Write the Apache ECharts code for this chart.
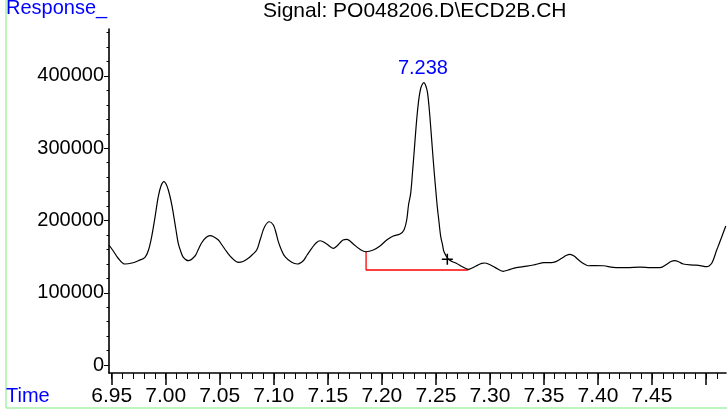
<!DOCTYPE html>
<html>
<head>
<meta charset="utf-8">
<script src="https://cdn.jsdelivr.net/npm/echarts@6/dist/echarts.min.js"></script>
<style>html,body{margin:0;padding:0;background:#fff}#c{width:727px;height:410px}</style>
</head>
<body>
<div id="c"></div>
<script>
const times = [6.9475,6.9521,6.9558,6.9623,6.9688,6.9746,6.9808,6.9841,6.9870,6.9901,6.9931,6.9956,6.9984,7.0003,7.0024,7.0049,7.0070,7.0095,7.0116,7.0141,7.0163,7.0209,7.0271,7.0299,7.0333,7.0373,7.0410,7.0447,7.0487,7.0521,7.0564,7.0613,7.0672,7.0715,7.0764,7.0798,7.0842,7.0873,7.0914,7.0959,7.0996,7.1021,7.1042,7.1067,7.1104,7.1166,7.1218,7.1273,7.1308,7.1351,7.1391,7.1428,7.1490,7.1551,7.1585,7.1613,7.1641,7.1675,7.1705,7.1736,7.1798,7.1854,7.1921,7.1983,7.2045,7.2106,7.2168,7.2205,7.2230,7.2247,7.2267,7.2284,7.2298,7.2316,7.2328,7.2344,7.2360,7.2376,7.2390,7.2404,7.2421,7.2437,7.2452,7.2467,7.2483,7.2499,7.2513,7.2529,7.2545,7.2562,7.2575,7.2615,7.2649,7.2693,7.2742,7.2800,7.2835,7.2872,7.2924,7.2955,7.2985,7.3047,7.3124,7.3168,7.3217,7.3309,7.3402,7.3495,7.3587,7.3665,7.3705,7.3742,7.3779,7.3816,7.3865,7.3911,7.3973,7.4050,7.4142,7.4266,7.4389,7.4482,7.4575,7.4637,7.4676,7.4713,7.4750,7.4790,7.4883,7.4945,7.5007,7.5028,7.5053,7.5074,7.5099,7.5121,7.5146,7.5183];
const responses = [166100,156400,148100,139800,141200,144400,149100,159200,177600,204800,232900,247800,253700,250500,242200,227000,210000,186900,168400,156400,149100,144400,150900,159200,169300,176500,179000,177200,173000,166100,156800,148100,142100,143300,147700,152300,159200,173000,191000,198300,193800,182700,170700,160600,149900,142100,139800,144400,152300,161500,168900,172000,167500,161500,164700,169300,173000,174000,171600,167500,160100,156800,159200,164700,173000,178500,181300,186900,200700,221500,237600,267100,293000,328000,348400,369600,383000,388900,390700,387500,378300,357100,329800,300400,269900,242200,219100,197900,177600,166100,156800,146700,143300,140500,136300,132500,134300,137000,140800,141200,139800,135200,129700,131500,133800,136100,138400,141600,142100,147700,151600,153200,150900,146000,140500,137400,137700,137400,135200,134700,135600,134900,134700,139400,143300,144400,142600,139800,138400,137700,136100,137000,140800,148100,159200,167500,177600,192400];

const baselineTimes = [7.1854, 7.1854, 7.2800];
const baselineValues = [156800, 131500, 131500];
const markerTimes = [7.2606];
const markerValues = [146300];
const peakTimes = [7.238];
const peakValues = [390700];

const xTickValues = [6.95,7.00,7.05,7.10,7.15,7.20,7.25,7.30,7.35,7.40,7.45,7.50];
const xTickLabels = ['6.95','7.00','7.05','7.10','7.15','7.20','7.25','7.30','7.35','7.40','7.45'];
const yTickValues = [0,100000,200000,300000,400000];
const yTickLabels = ['0','100000','200000','300000','400000'];

const titleText = 'Signal: PO048206.D\\ECD2B.CH';
const yAxisName = 'Response_';
const xAxisName = 'Time';

const X_MIN = 6.9475, X_MAX = 7.5185, Y_MIN = -11000, Y_MAX = 465000;

const xMinor = [];
for (let i = 0; i <= 56; i++) xMinor.push(+(6.95 + i * 0.01).toFixed(2));
const yMinor = [];
for (let v = 0; v <= 460000; v += 20000) yMinor.push(v);

const FONT = '"Liberation Sans", Arial, sans-serif';
const chart = echarts.init(document.getElementById('c'), null, {renderer: 'canvas'});
chart.setOption({
  animation: false,
  backgroundColor: '#fff',
  title: [
    {text: titleText, left: 263, top: 1, padding: 0, textStyle: {fontFamily: FONT, fontSize: 21, fontWeight: 'normal', color: '#000'}},
    {text: yAxisName, left: 6, top: -2, padding: 0, textStyle: {fontFamily: FONT, fontSize: 20, fontWeight: 'normal', color: '#0000ff'}},
    {text: xAxisName, left: 6, top: 386, padding: 0, textStyle: {fontFamily: FONT, fontSize: 20, fontWeight: 'normal', color: '#0000ff'}}
  ],
  graphic: [
    {type: 'line', shape: {x1: 6, y1: 0, x2: 6, y2: 408}, style: {stroke: '#a8f0a8', lineWidth: 1.5}},
    {type: 'line', shape: {x1: 6, y1: 408, x2: 727, y2: 408}, style: {stroke: '#a8f0a8', lineWidth: 1.5}}
  ],
  grid: {left: 109, right: 1, top: 29, bottom: 37, containLabel: false},
  xAxis: [
    {type: 'value', min: X_MIN, max: X_MAX, position: 'bottom',
     axisLine: {show: true, onZero: false, lineStyle: {color: '#000', width: 1.6}},
     axisTick: {show: true, length: 12, customValues: xTickValues, lineStyle: {color: '#000', width: 1.5}},
     axisLabel: {show: true, customValues: xTickValues.slice(0, xTickLabels.length), formatter: v => xTickLabels[xTickValues.indexOf(+v.toFixed(2))] || '', fontFamily: FONT, fontSize: 21, color: '#000', margin: 13},
     splitLine: {show: false}},
    {type: 'value', min: X_MIN, max: X_MAX, position: 'bottom',
     axisLine: {show: false, onZero: false},
     axisTick: {show: true, length: 6, customValues: xMinor, lineStyle: {color: '#000', width: 1}},
     axisLabel: {show: false}, splitLine: {show: false}}
  ],
  yAxis: [
    {type: 'value', min: Y_MIN, max: Y_MAX, position: 'left',
     axisLine: {show: true, onZero: false, lineStyle: {color: '#000', width: 1.6}},
     axisTick: {show: true, length: 5, customValues: yTickValues, lineStyle: {color: '#000', width: 1}},
     axisLabel: {show: true, customValues: yTickValues, formatter: v => yTickLabels[yTickValues.indexOf(v)] || '', fontFamily: FONT, fontSize: 20, color: '#000', margin: 5},
     splitLine: {show: false}},
    {type: 'value', min: Y_MIN, max: Y_MAX, position: 'left',
     axisLine: {show: false, onZero: false},
     axisTick: {show: true, length: 2.5, customValues: yMinor, lineStyle: {color: '#000', width: 1}},
     axisLabel: {show: false}, splitLine: {show: false}}
  ],
  series: [
    {type: 'line', xAxisIndex: 0, yAxisIndex: 0, data: times.map((t, i) => [t, responses[i]]),
     showSymbol: false, symbol: 'none', smooth: 0.35, lineStyle: {color: '#000', width: 1.2}, z: 3},
    {type: 'line', xAxisIndex: 0, yAxisIndex: 0, data: baselineTimes.map((t, i) => [t, baselineValues[i]]),
     showSymbol: false, symbol: 'none', lineStyle: {color: '#ff0000', width: 1.3}, z: 2},
    {type: 'scatter', xAxisIndex: 0, yAxisIndex: 0, data: markerTimes.map((t, i) => [t, markerValues[i]]),
     symbol: 'path://M4.3,0H5.7V4.3H10V5.7H5.7V10H4.3V5.7H0V4.3H4.3Z', symbolSize: 11, itemStyle: {color: '#000', opacity: 1}, z: 4},
    {type: 'scatter', xAxisIndex: 0, yAxisIndex: 0, data: peakTimes.map((t, i) => [t, peakValues[i]]),
     symbolSize: 0, itemStyle: {color: '#0000ff', opacity: 1},
     label: {show: true, position: 'top', distance: 4, opacity: 1, formatter: p => p.value[0].toFixed(3), fontFamily: FONT, fontSize: 20, color: '#0000ff'}, z: 5}
  ]
});
</script>
</body>
</html>
